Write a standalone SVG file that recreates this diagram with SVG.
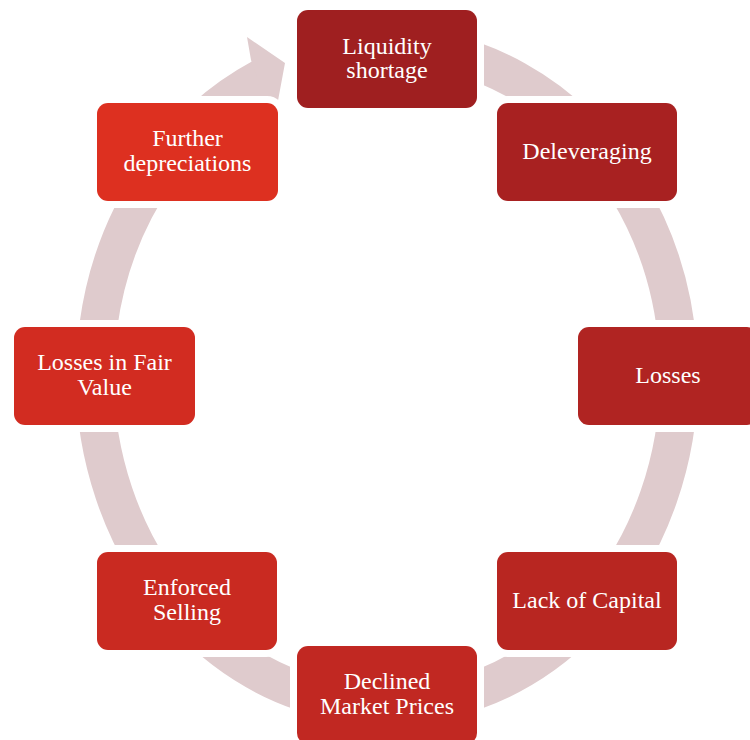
<svg xmlns="http://www.w3.org/2000/svg" width="750" height="740" viewBox="0 0 750 740">
  <style>
    .ring { fill: none; stroke: #dfcbcd; stroke-width: 38; }
    .head { fill: #dfcbcd; }
    .box { stroke: #ffffff; stroke-width: 14; paint-order: stroke; }
    .label { font-family: "Liberation Serif", "Times New Roman", serif; font-size: 24px; fill: #ffffff; text-anchor: middle; }
  </style>
  <rect width="750" height="740" fill="#ffffff"/>

  <!-- cycle ring, open between the arrowhead and the top node -->
  <g id="connectors">
    <path class="ring" d="M 387 46 A 292 330 0 1 1 261.3 78.1"/>
    <polygon class="head" points="251,60 247,37 285,63 277,106 262,100 258,80"/>
  </g>

  <g id="node-liquidity">
    <rect class="box" x="297" y="10" width="180" height="98" rx="11" fill="#9f1f20"/>
    <text class="label" x="387" y="54">Liquidity</text>
    <text class="label" x="387" y="78">shortage</text>
  </g>

  <g id="node-deleveraging">
    <rect class="box" x="497" y="103" width="180" height="98" rx="11" fill="#a82121"/>
    <text class="label" x="587" y="159">Deleveraging</text>
  </g>

  <g id="node-losses">
    <rect class="box" x="578" y="327" width="180" height="98" rx="11" fill="#b02422"/>
    <text class="label" x="668" y="383">Losses</text>
  </g>

  <g id="node-lack-of-capital">
    <rect class="box" x="497" y="552" width="180" height="98" rx="11" fill="#b82621"/>
    <text class="label" x="587" y="608">Lack of Capital</text>
  </g>

  <g id="node-declined-prices">
    <rect class="box" x="297" y="646" width="180" height="98" rx="11" fill="#c12822"/>
    <text class="label" x="387" y="689">Declined</text>
    <text class="label" x="387" y="714">Market Prices</text>
  </g>

  <g id="node-enforced-selling">
    <rect class="box" x="97" y="552" width="180" height="98" rx="11" fill="#c92a21"/>
    <text class="label" x="187" y="595">Enforced</text>
    <text class="label" x="187" y="620">Selling</text>
  </g>

  <g id="node-fair-value">
    <rect class="box" x="14" y="327" width="181" height="98" rx="11" fill="#d22c21"/>
    <text class="label" x="104.5" y="370">Losses in Fair</text>
    <text class="label" x="104.5" y="395">Value</text>
  </g>

  <g id="node-further-depreciations">
    <rect class="box" x="97" y="103" width="181" height="98" rx="11" fill="#dd3020"/>
    <text class="label" x="187.5" y="146">Further</text>
    <text class="label" x="187.5" y="171">depreciations</text>
  </g>
</svg>
